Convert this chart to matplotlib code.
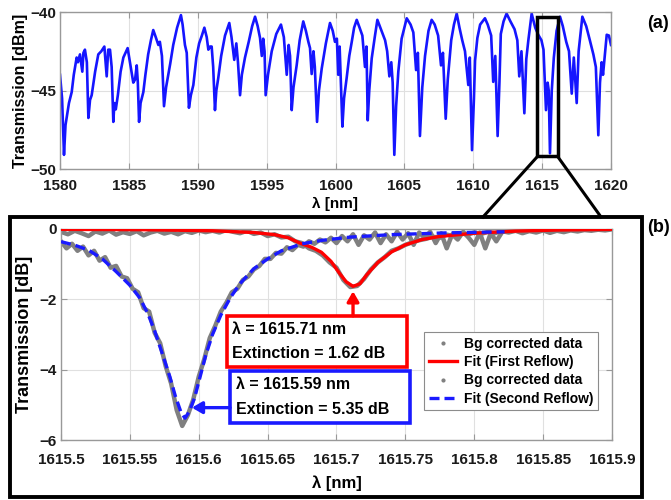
import numpy as np
import matplotlib

matplotlib.use("Agg")
import matplotlib.pyplot as plt  # noqa: E402
from matplotlib.patches import Rectangle  # noqa: E402
from matplotlib.lines import Line2D  # noqa: E402

plt.rcParams["font.family"] = ["Liberation Sans", "DejaVu Sans"]
plt.rcParams["font.weight"] = "bold"
plt.rcParams["axes.labelweight"] = "bold"

# ---- (a) full transmission spectrum -----------------------------------------
spec_wl = [
    1580.00, 1580.15, 1580.29, 1580.40, 1580.48, 1580.65, 1580.85, 1581.00, 1581.21, 1581.30,
    1581.45, 1581.62, 1581.70, 1581.81, 1581.95, 1582.06, 1582.18, 1582.30, 1582.55, 1582.78,
    1583.00, 1583.22, 1583.39, 1583.50, 1583.63, 1583.75, 1583.87, 1583.95, 1584.05, 1584.20,
    1584.40, 1584.60, 1584.91, 1585.10, 1585.32, 1585.45, 1585.57, 1585.65, 1585.74, 1585.85,
    1586.05, 1586.20, 1586.40, 1586.60, 1586.77, 1586.95, 1587.14, 1587.25, 1587.40, 1587.55,
    1587.70, 1587.86, 1588.00, 1588.22, 1588.50, 1588.78, 1588.90, 1589.07, 1589.20, 1589.36,
    1589.50, 1589.68, 1589.90, 1590.10, 1590.30, 1590.48, 1590.65, 1590.77, 1590.90, 1591.01,
    1591.12, 1591.25, 1591.35, 1591.49, 1591.70, 1591.98, 1592.29, 1592.45, 1592.65, 1592.80,
    1592.92, 1593.07, 1593.20, 1593.43, 1593.70, 1593.95, 1594.16, 1594.35, 1594.52, 1594.65,
    1594.75, 1594.85, 1594.93, 1595.10, 1595.37, 1595.70, 1596.04, 1596.25, 1596.46, 1596.60,
    1596.70, 1596.82, 1596.95, 1597.18, 1597.40, 1597.66, 1597.85, 1598.03, 1598.15, 1598.27,
    1598.40, 1598.50, 1598.66, 1598.80, 1599.00, 1599.30, 1599.60, 1599.80, 1599.96, 1600.10,
    1600.20, 1600.30, 1600.50, 1600.62, 1600.81, 1601.00, 1601.18, 1601.35, 1601.54, 1601.75,
    1601.95, 1602.14, 1602.25, 1602.34, 1602.45, 1602.63, 1602.85, 1603.04, 1603.30, 1603.60,
    1603.75, 1603.91, 1604.05, 1604.15, 1604.27, 1604.40, 1604.56, 1604.80, 1605.17, 1605.45,
    1605.65, 1605.85, 1605.98, 1606.13, 1606.30, 1606.50, 1606.75, 1606.98, 1607.20, 1607.45,
    1607.66, 1607.80, 1608.00, 1608.15, 1608.40, 1608.60, 1608.80, 1609.00, 1609.20, 1609.40,
    1609.64, 1609.75, 1609.91, 1610.05, 1610.13, 1610.30, 1610.50, 1610.85, 1611.05, 1611.30,
    1611.45, 1611.60, 1611.77, 1611.90, 1612.00, 1612.20, 1612.42, 1612.70, 1613.00, 1613.20,
    1613.34, 1613.50, 1613.71, 1613.85, 1614.00, 1614.24, 1614.50, 1614.72, 1614.95, 1615.10,
    1615.28, 1615.40, 1615.48, 1615.57, 1615.70, 1615.85, 1616.05, 1616.30, 1616.50, 1616.75,
    1616.95, 1617.15, 1617.30, 1617.51, 1617.65, 1617.92, 1618.20, 1618.45, 1618.72, 1618.90,
    1619.08, 1619.20, 1619.32, 1619.42, 1619.69, 1619.85, 1620.00,
]
spec_dbm = [
    -44.0, -45.5, -49.1, -47.2, -46.75, -45.8, -45.1, -44.0, -42.9, -43.2,
    -42.7, -43.8, -42.6, -42.4, -43.2, -46.75, -45.6, -45.3, -43.8, -42.7,
    -42.5, -42.2, -44.1, -42.4, -42.4, -43.5, -47.0, -45.8, -46.2, -45.3,
    -43.8, -42.9, -42.3, -43.3, -44.5, -44.3, -43.4, -44.5, -47.0, -45.8,
    -45.1, -44.0, -42.7, -41.8, -41.15, -41.6, -42.1, -41.9, -42.8, -46.0,
    -44.8, -44.0, -43.3, -42.1, -41.0, -40.2, -40.8, -42.1, -42.6, -46.1,
    -45.3, -44.65, -42.9, -42.0, -41.5, -41.0, -41.6, -42.4, -42.2, -42.2,
    -43.5, -46.25, -45.0, -44.2, -42.8, -41.5, -40.7, -41.6, -43.05, -42.0,
    -43.2, -45.3, -44.0, -42.9, -41.9, -40.9, -40.3, -40.9, -41.65, -42.8,
    -41.7, -42.5, -45.3, -44.0, -42.5, -41.4, -40.8, -41.6, -44.0, -42.1,
    -42.8, -46.25, -44.8, -43.4, -41.8, -40.6, -41.2, -41.9, -42.3, -43.95,
    -42.5, -43.5, -47.0, -45.0, -43.6, -42.0, -40.7, -41.2, -41.9, -41.7,
    -44.0, -42.2, -47.3, -45.5, -44.2, -42.8, -41.9, -41.0, -40.5, -41.0,
    -41.5, -43.5, -42.2, -46.9, -45.0, -42.95, -41.6, -40.5, -41.1, -41.8,
    -42.5, -44.1, -43.2, -44.5, -49.1, -46.0, -43.8, -41.7, -40.4, -40.8,
    -41.3, -43.7, -42.6, -47.9, -44.8, -42.8, -41.2, -40.5, -40.8, -41.5,
    -43.4, -42.6, -46.8, -44.3, -41.8, -40.8, -40.1, -41.0, -41.8, -42.5,
    -44.65, -42.9, -48.8, -45.5, -43.1, -41.65, -40.8, -40.4, -40.8, -41.5,
    -44.45, -42.8, -47.9, -44.5, -41.4, -40.6, -40.1, -40.6, -41.1, -41.8,
    -44.1, -42.5, -46.45, -43.0, -41.8, -40.1, -41.0, -41.45, -41.8, -42.4,
    -46.25, -44.5, -45.0, -49.0, -45.0, -42.9, -41.2, -40.3, -40.9, -41.9,
    -42.5, -45.2, -42.9, -45.8, -42.5, -40.3, -40.9, -41.75, -42.7, -43.5,
    -47.85, -44.5, -43.2, -44.0, -41.45, -41.5, -42.1,
]

# ---- (b) zoom on the resonance ---------------------------------------------
# background-corrected data, first reflow (sampled every 5 pm)
first_x = np.round(np.arange(1615.500, 1615.9001, 0.005), 3)
first_db = [
    -0.08, -0.15, -0.05, -0.12, -0.20, -0.07, -0.13, -0.04, -0.16, -0.09,
    -0.14, -0.06, -0.18, -0.10, -0.05, -0.13, -0.08, -0.15, -0.06, -0.11,
    -0.04, -0.09, -0.05, -0.10, -0.03, -0.08, -0.12, -0.05, -0.14, -0.10,
    -0.20, -0.15, -0.24, -0.22, -0.35, -0.40, -0.55, -0.62, -0.75, -0.95,
    -1.10, -1.45, -1.65, -1.62, -1.42, -1.15, -0.95, -0.80, -0.62, -0.55,
    -0.45, -0.38, -0.32, -0.28, -0.22, -0.25, -0.16, -0.20, -0.12, -0.16,
    -0.10, -0.14, -0.08, -0.12, -0.06, -0.10, -0.05, -0.12, -0.06, -0.10,
    -0.04, -0.11, -0.05, -0.09, -0.04, -0.07, -0.03, -0.05, -0.02, -0.04,
    -0.01,
]
# background-corrected data, second reflow (sampled every 4 pm)
second_x = np.round(np.arange(1615.500, 1615.8201, 0.004), 3)
second_db = [
    -0.35, -0.55, -0.42, -0.62, -0.50, -0.75, -0.62, -0.90, -0.80, -1.10,
    -1.05, -1.35, -1.40, -1.70, -1.80, -2.25, -2.35, -2.95, -3.25, -3.90,
    -4.40, -5.15, -5.60, -5.30, -4.85, -4.20, -3.70, -3.10, -2.75, -2.35,
    -2.10, -1.80, -1.70, -1.45, -1.35, -1.15, -1.05, -0.85, -0.85, -0.68,
    -0.70, -0.52, -0.60, -0.45, -0.50, -0.35, -0.42, -0.30, -0.38, -0.25,
    -0.40, -0.20, -0.35, -0.15, -0.45, -0.18, -0.30, -0.10, -0.40, -0.15,
    -0.35, -0.08, -0.30, -0.12, -0.45, -0.10, -0.25, -0.08, -0.40, -0.12,
    -0.55, -0.15, -0.30, -0.08, -0.25, -0.45, -0.10, -0.55, -0.12, -0.35,
    -0.10,
]
# fitted curves
fit1_x = [1615.500, 1615.560, 1615.610, 1615.640, 1615.655, 1615.665, 1615.674, 1615.682,
          1615.689, 1615.696, 1615.702, 1615.707, 1615.712, 1615.717, 1615.722, 1615.730,
          1615.740, 1615.750, 1615.762, 1615.775, 1615.800, 1615.830, 1615.860, 1615.900]
fit1_db = [-0.01, -0.02, -0.05, -0.10, -0.16, -0.25, -0.41, -0.52,
           -0.66, -0.92, -1.25, -1.50, -1.63, -1.56, -1.30, -0.95,
           -0.65, -0.45, -0.30, -0.21, -0.12, -0.06, -0.03, -0.01]
fit2_x = [1615.500, 1615.510, 1615.520, 1615.530, 1615.540, 1615.550, 1615.557, 1615.563,
          1615.568, 1615.574, 1615.579, 1615.583, 1615.587, 1615.590, 1615.593, 1615.597,
          1615.601, 1615.605, 1615.610, 1615.616, 1615.623, 1615.630, 1615.640, 1615.650,
          1615.660, 1615.675, 1615.690, 1615.710, 1615.740, 1615.780, 1615.822]
fit2_db = [-0.36, -0.46, -0.60, -0.85, -1.21, -1.60, -1.95, -2.40,
           -2.90, -3.60, -4.20, -4.75, -5.20, -5.38, -5.20, -4.80,
           -4.20, -3.60, -3.00, -2.45, -1.95, -1.55, -1.13, -0.85,
           -0.62, -0.42, -0.32, -0.23, -0.16, -0.11, -0.08]

res1_nm, res1_ext = 1615.71, 1.62
res2_nm, res2_ext = 1615.59, 5.35

GRID = "0.88"
SPINE = "0.6"


def style(ax, xpad):
    ax.grid(True, color=GRID, lw=0.8)
    ax.set_axisbelow(True)
    for s in ax.spines.values():
        s.set_color(SPINE)
        s.set_linewidth(1.0)
    ax.tick_params(direction="in", length=4, color=SPINE, labelsize=11,
                   labelcolor="0.1", top=True, right=True)
    ax.tick_params(axis="x", pad=xpad)
    ax.tick_params(axis="y", pad=3)


fig = plt.figure(figsize=(6.71, 5.0), dpi=100)

# ---- top panel --------------------------------------------------------------
ax1 = fig.add_axes([60 / 671, 1 - 169 / 500, 551 / 671, 157 / 500])
ax1.plot(spec_wl, spec_dbm, color="#1515ff", lw=1.9)
ax1.set_xlim(1580, 1620)
ax1.set_ylim(-50, -40)
ax1.set_xticks(np.arange(1580, 1621, 5))
ax1.set_yticks([-50, -45, -40])
ax1.set_xlabel("λ [nm]", fontsize=11, va="top")
ax1.set_ylabel("Transmission [dBm]", fontsize=11.5)
style(ax1, 7)
ax1.xaxis.set_label_coords(0.5, -0.175)
ax1.yaxis.set_label_coords(-0.058, 0.5)
ax1.add_patch(Rectangle((1614.65, -49.2), 1.5, 8.9, fill=False, ec="black",
                        lw=2.5, zorder=5))

# ---- bottom panel -----------------------------------------------------------
ax2 = fig.add_axes([61 / 671, 1 - 440 / 500, 551 / 671, 211 / 500])
ax2.plot(first_x, first_db, color="0.5", lw=3.2, zorder=2)
ax2.plot(fit1_x, fit1_db, color="red", lw=2.4, zorder=3)
ax2.plot(second_x, second_db, color="0.5", lw=3.2, zorder=2)
ax2.plot(fit2_x, fit2_db, color="#1a1aff", lw=2.4, ls=(0, (3, 1.5)), zorder=4)
ax2.set_xlim(1615.5, 1615.9)
ax2.set_ylim(-6, 0)
ax2.set_xticks(np.round(np.arange(1615.5, 1615.91, 0.05), 2))
ax2.set_xticklabels(["1615.5", "1615.55", "1615.6", "1615.65", "1615.7",
                     "1615.75", "1615.8", "1615.85", "1615.9"])
ax2.set_yticks([-6, -4, -2, 0])
ax2.set_xlabel("λ [nm]", fontsize=12, va="top")
ax2.set_ylabel("Transmission [dB]", fontsize=13)
style(ax2, 9)
ax2.xaxis.set_label_coords(0.5, -0.168)
ax2.yaxis.set_label_coords(-0.051, 0.5)

handles = [
    Line2D([], [], ls="none", marker=".", ms=4, color="0.5"),
    Line2D([], [], color="red", lw=2.4),
    Line2D([], [], ls="none", marker=".", ms=4, color="0.5"),
    Line2D([], [], color="#1a1aff", lw=2.4, ls=(0, (3, 1.5))),
]
labels = ["Bg corrected data", "Fit (First Reflow)", "Bg corrected data",
          "Fit (Second Reflow)"]
leg = ax2.legend(handles, labels, loc="lower right", bbox_to_anchor=(0.975, 0.14),
                 borderaxespad=0, fontsize=10, fancybox=False, framealpha=1,
                 edgecolor="0.55", handlelength=2.0, handletextpad=0.5,
                 labelspacing=0.3, borderpad=0.35)
leg.get_frame().set_linewidth(0.8)

# annotation boxes
for (x0, y0, y1, col, nm, ext) in [
        (1615.6205, -3.92, -2.47, "red", res1_nm, res1_ext),
        (1615.6227, -5.52, -4.05, "#1a1aff", res2_nm, res2_ext)]:
    ax2.add_patch(Rectangle((x0, y0), 0.131, y1 - y0, fill=True, fc="white",
                            ec=col, lw=2.6, zorder=6))
    ax2.text(x0 + 0.004, y1 - 0.38, f"λ = {nm:.2f} nm", fontsize=11.5,
             va="center", ha="left", zorder=7)
    ax2.text(x0 + 0.004, y0 + 0.38, f"Extinction = {ext:.2f} dB", fontsize=11.5,
             va="center", ha="left", zorder=7)

ax2.annotate("", xy=(res1_nm + 0.002, -res1_ext - 0.15), xytext=(res1_nm + 0.002, -2.47),
             arrowprops=dict(arrowstyle="-|>,head_length=0.6,head_width=0.35",
                             color="red", lw=2.4, shrinkA=0, shrinkB=0), zorder=6)
ax2.annotate("", xy=(res2_nm + 0.005, -5.08), xytext=(1615.6227, -5.08),
             arrowprops=dict(arrowstyle="-|>,head_length=0.6,head_width=0.35",
                             color="#1a1aff", lw=2.4, shrinkA=0, shrinkB=0), zorder=6)

# frame around (b) and zoom connectors
fig.add_artist(Rectangle((10 / 671, 3 / 500), 632 / 671, 280 / 500, fill=False,
                         ec="black", lw=2.8, transform=fig.transFigure))
fig.add_artist(Line2D([537 / 671, 483 / 671], [1 - 157 / 500, 1 - 217 / 500],
                      color="black", lw=2.2, transform=fig.transFigure))
fig.add_artist(Line2D([558 / 671, 601 / 671], [1 - 157 / 500, 1 - 217 / 500],
                      color="black", lw=2.2, transform=fig.transFigure))

fig.text(658 / 671, 1 - 23 / 500, "(a)", fontsize=13, ha="center", va="center")
fig.text(658 / 671, 1 - 227 / 500, "(b)", fontsize=13, ha="center", va="center")

fig.savefig("out.png", dpi=100)
